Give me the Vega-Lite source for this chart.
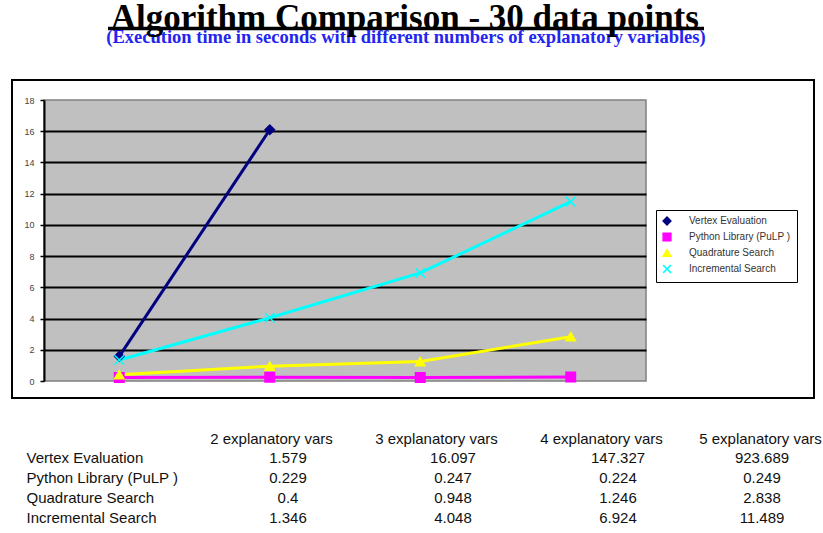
{
  "$schema": "https://vega.github.io/schema/vega-lite/v6.json",
  "background": "white",
  "padding": {"left": 10, "top": 0, "right": 0, "bottom": 0},
  "title": {
    "text": "Algorithm Comparison - 30 data points",
    "anchor": "middle",
    "font": "Liberation Serif",
    "fontSize": 35,
    "fontWeight": "bold",
    "color": "black",
    "offset": -9,
    "dx": -11
  },
  "spacing": 31,
  "datasets": {
    "times": [
      {"algorithm": "Vertex Evaluation", "vars": 2, "seconds": 1.579},
      {"algorithm": "Vertex Evaluation", "vars": 3, "seconds": 16.097},
      {"algorithm": "Vertex Evaluation", "vars": 4, "seconds": 147.327},
      {"algorithm": "Vertex Evaluation", "vars": 5, "seconds": 923.689},
      {"algorithm": "Python Library (PuLP )", "vars": 2, "seconds": 0.229},
      {"algorithm": "Python Library (PuLP )", "vars": 3, "seconds": 0.247},
      {"algorithm": "Python Library (PuLP )", "vars": 4, "seconds": 0.224},
      {"algorithm": "Python Library (PuLP )", "vars": 5, "seconds": 0.249},
      {"algorithm": "Quadrature Search", "vars": 2, "seconds": 0.4},
      {"algorithm": "Quadrature Search", "vars": 3, "seconds": 0.948},
      {"algorithm": "Quadrature Search", "vars": 4, "seconds": 1.246},
      {"algorithm": "Quadrature Search", "vars": 5, "seconds": 2.838},
      {"algorithm": "Incremental Search", "vars": 2, "seconds": 1.346},
      {"algorithm": "Incremental Search", "vars": 3, "seconds": 4.048},
      {"algorithm": "Incremental Search", "vars": 4, "seconds": 6.924},
      {"algorithm": "Incremental Search", "vars": 5, "seconds": 11.489}
    ]
  },
  "vconcat": [
    {
      "width": 660,
      "height": 3,
      "data": {"name": "times"},
      "transform": [{"filter": "datum.vars == 2 && datum.algorithm == 'Vertex Evaluation'"}],
      "view": {"stroke": null},
      "mark": {"type": "rule", "color": "black", "strokeWidth": 3.5},
      "encoding": {
        "x": {"datum": 64, "type": "quantitative", "scale": {"domain": [0, 660], "nice": false, "zero": false}, "axis": null},
        "x2": {"datum": 660},
        "y": {"datum": 0.5, "type": "quantitative", "scale": {"domain": [0, 1], "nice": false}, "axis": null}
      },
      "title": {
        "text": "(Execution time in seconds with different numbers of explanatory variables)",
        "orient": "bottom",
        "anchor": "middle",
        "font": "Liberation Serif",
        "fontSize": 18.5,
        "fontWeight": "bold",
        "color": "#2424F0",
        "offset": -2,
        "dx": 32
      }
    },
    {
      "width": 602,
      "height": 281,
      "view": {"fill": "#c0c0c0", "stroke": "#808080", "strokeWidth": 1.5},
      "data": {"name": "times"},
      "encoding": {
        "x": {"field": "vars", "type": "quantitative", "scale": {"domain": [1.5, 5.5], "nice": false, "zero": false}, "axis": null},
        "y": {
          "field": "seconds",
          "type": "quantitative",
          "scale": {"domain": [0, 18], "nice": false, "zero": false},
          "axis": {
            "title": null,
            "values": [0, 2, 4, 6, 8, 10, 12, 14, 16, 18],
            "domain": true,
            "domainColor": "black",
            "domainWidth": 2,
            "ticks": true,
            "tickColor": "black",
            "tickSize": 4,
            "tickWidth": 1.5,
            "labelFont": "Liberation Sans",
            "labelFontSize": 9,
            "labelColor": "#444444",
            "labelPadding": 6,
            "grid": true,
            "gridColor": "black",
            "gridWidth": 2,
            "gridOpacity": {"condition": {"test": "datum.value == 0 || datum.value == 18", "value": 0}, "value": 1}
          }
        }
      },
      "layer": [
        {
          "transform": [{"filter": "datum.vars == 2 && datum.algorithm == 'Vertex Evaluation'"}],
          "mark": {"type": "rect", "filled": false, "stroke": "black", "strokeWidth": 2},
          "encoding": {
            "x": {"datum": 1.2874, "type": "quantitative"},
            "x2": {"datum": 6.6163},
            "y": {"datum": -1.089, "type": "quantitative"},
            "y2": {"datum": 19.281}
          }
        },
        {
          "transform": [{"filter": "datum.vars == 2 && datum.algorithm == 'Vertex Evaluation'"}],
          "mark": {"type": "rule", "color": "black", "strokeWidth": 2},
          "encoding": {
            "x": {"datum": 1.2874, "type": "quantitative"},
            "x2": {"datum": 6.6163},
            "y": {"datum": 19.281, "type": "quantitative"}
          }
        },
        {
          "transform": [{"filter": "datum.vars == 2 && datum.algorithm == 'Vertex Evaluation'"}],
          "mark": {"type": "rule", "color": "black", "strokeWidth": 2},
          "encoding": {
            "x": {"datum": 1.2874, "type": "quantitative"},
            "x2": {"datum": 6.6163},
            "y": {"datum": -1.089, "type": "quantitative"}
          }
        },
        {
          "transform": [{"filter": "datum.vars == 2 && datum.algorithm == 'Vertex Evaluation'"}],
          "mark": {"type": "rule", "color": "black", "strokeWidth": 2},
          "encoding": {
            "x": {"datum": 1.2874, "type": "quantitative"},
            "y": {"datum": -1.089, "type": "quantitative"},
            "y2": {"datum": 19.281}
          }
        },
        {
          "transform": [{"filter": "datum.vars == 2 && datum.algorithm == 'Vertex Evaluation'"}],
          "mark": {"type": "rule", "color": "black", "strokeWidth": 2},
          "encoding": {
            "x": {"datum": 6.6163, "type": "quantitative"},
            "y": {"datum": -1.089, "type": "quantitative"},
            "y2": {"datum": 19.281}
          }
        },
        {
          "transform": [{"filter": "datum.seconds <= 18"}],
          "mark": {"type": "line", "strokeWidth": 3},
          "encoding": {
            "color": {
              "field": "algorithm",
              "type": "nominal",
              "scale": {
                "domain": ["Vertex Evaluation", "Python Library (PuLP )", "Quadrature Search", "Incremental Search"],
                "range": ["#000080", "#FF00FF", "#FFFF00", "#00FFFF"]
              },
              "legend": {
                "title": null,
                "orient": "none",
                "legendX": 612,
                "legendY": 183,
                "padding": 6,
                "strokeColor": "black",
                "fillColor": "white",
                "labelFont": "Liberation Sans",
                "labelFontSize": 10,
                "labelColor": "#333333",
                "symbolSize": 60,
                "rowPadding": 2,
                "labelOffset": 17,
                "symbolStrokeWidth": 1.5
              }
            }
          }
        },
        {
          "transform": [{"filter": "datum.seconds <= 18"}],
          "mark": {"type": "point", "filled": true, "size": 90, "opacity": 1, "strokeWidth": 1.5},
          "encoding": {
            "color": {
              "field": "algorithm",
              "type": "nominal",
              "scale": {
                "domain": ["Vertex Evaluation", "Python Library (PuLP )", "Quadrature Search", "Incremental Search"],
                "range": ["#000080", "#FF00FF", "#FFFF00", "#00FFFF"]
              }
            },
            "stroke": {
              "field": "algorithm",
              "type": "nominal",
              "scale": {
                "domain": ["Vertex Evaluation", "Python Library (PuLP )", "Quadrature Search", "Incremental Search"],
                "range": ["#000080", "#FF00FF", "#FFFF00", "#00FFFF"]
              },
              "legend": null
            },
            "shape": {
              "field": "algorithm",
              "type": "nominal",
              "scale": {
                "domain": ["Vertex Evaluation", "Python Library (PuLP )", "Quadrature Search", "Incremental Search"],
                "range": ["diamond", "square", "triangle-up", "M-1,-1L1,1M-1,1L1,-1"]
              },
              "legend": null
            }
          }
        }
      ]
    },
    {
      "width": 770,
      "height": 80,
      "data": {"name": "times"},
      "view": {"stroke": null},
      "mark": {"type": "text", "font": "Liberation Sans", "fontSize": 15, "baseline": "middle", "align": "center", "color": "#111111"},
      "encoding": {
        "x": {
          "field": "vars",
          "type": "quantitative",
          "scale": {"type": "linear", "domain": [2, 3, 4, 5], "range": [244, 409, 574, 718], "nice": false, "zero": false},
          "axis": {
            "orient": "top",
            "title": null,
            "values": [2, 3, 4, 5],
            "labelExpr": "datum.value + ' explanatory vars'",
            "domain": false,
            "ticks": false,
            "tickSize": 0,
            "labelAngle": 0,
            "labelPadding": 10,
            "labelBaseline": "middle",
            "labelAlign": "center",
            "labelFlush": false,
            "labelOverlap": false,
            "labelFont": "Liberation Sans",
            "labelFontSize": 15,
            "labelColor": "#111111",
            "labelOffset": {"condition": {"test": "datum.value == 5", "value": -2}, "value": -17},
            "grid": false
          }
        },
        "y": {
          "field": "algorithm",
          "type": "nominal",
          "scale": {
            "type": "band",
            "domain": ["Vertex Evaluation", "Python Library (PuLP )", "Quadrature Search", "Incremental Search"],
            "paddingInner": 0,
            "paddingOuter": 0
          },
          "axis": {
            "title": null,
            "domain": false,
            "ticks": false,
            "tickSize": 0,
            "minExtent": 0,
            "labelAlign": "left",
            "labelBaseline": "middle",
            "labelPadding": 18,
            "labelFont": "Liberation Sans",
            "labelFontSize": 15,
            "labelColor": "#111111",
            "grid": false
          }
        },
        "text": {"field": "seconds", "type": "quantitative", "format": ""}
      }
    }
  ]
}
